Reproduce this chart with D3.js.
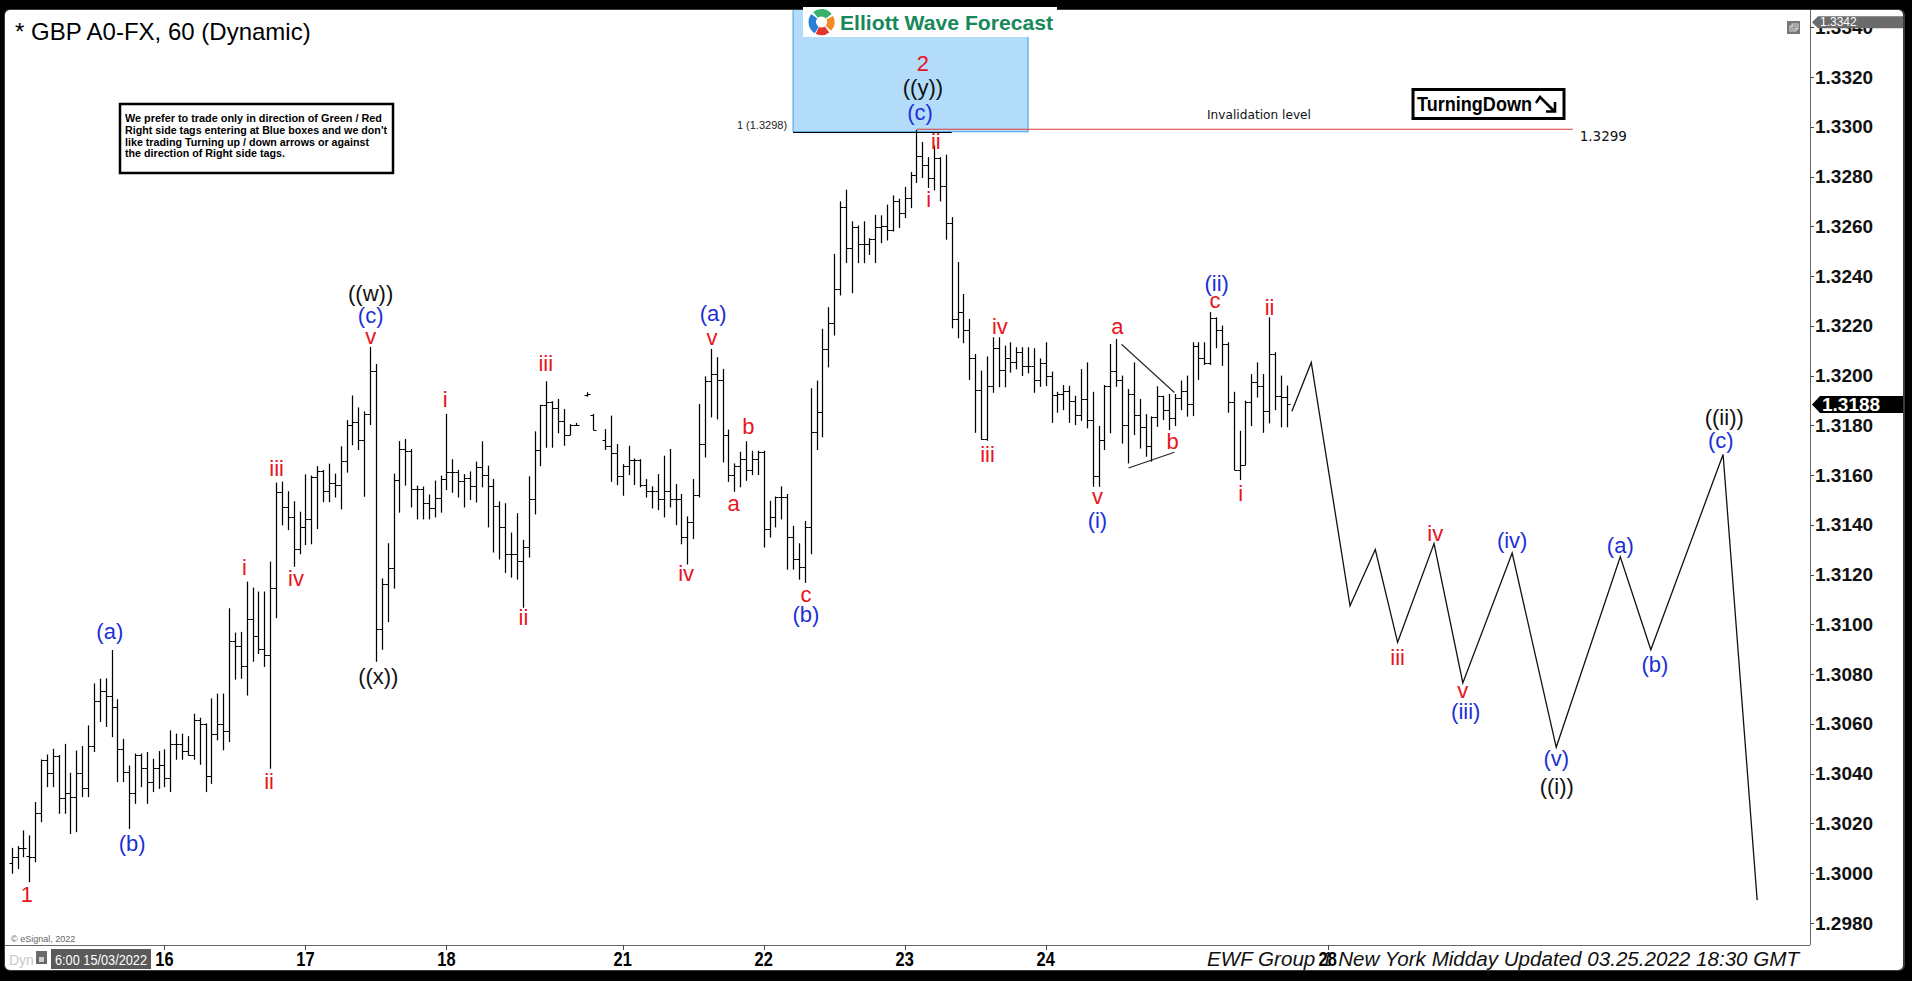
<!DOCTYPE html>
<html><head><meta charset="utf-8">
<script src="https://cdn.jsdelivr.net/npm/d3@7"></script>
<style>html,body{margin:0;padding:0;background:#000;overflow:hidden}svg{display:block}</style>
</head><body><svg id="c" width="1912" height="981"></svg>
<script>
// ---------------- DATA ----------------
const opens=[1.30040,1.30066,1.30100,1.30069,1.30066,1.30241,1.30455,1.30402,1.30473,1.30301,1.30321,1.30308,1.30402,1.30341,1.30512,1.30694,1.30733,1.30713,1.30670,1.30498,1.30408,1.30321,1.30475,1.30422,1.30368,1.30422,1.30435,1.30382,1.30520,1.30520,1.30493,1.30475,1.30616,1.30600,1.30391,1.30559,1.30599,1.30572,1.30934,1.30914,1.30831,1.31021,1.30955,1.30900,1.30876,1.31146,1.31531,1.31472,1.31432,1.31305,1.31393,1.31424,1.31591,1.31615,1.31536,1.31568,1.31560,1.31658,1.31802,1.31814,1.31743,1.31846,1.32018,1.30982,1.31162,1.31226,1.31579,1.31706,1.31698,1.31544,1.31544,1.31488,1.31467,1.31507,1.31584,1.31611,1.31611,1.31575,1.31589,1.31555,1.31633,1.31602,1.31555,1.31475,1.31392,1.31284,1.31284,1.31253,1.31311,1.31504,1.31700,1.31880,1.31895,1.31870,1.31817,1.31763,1.31803,null,1.31920,1.31841,null,1.31743,1.31716,1.31687,1.31595,1.31638,1.31662,1.31660,1.31562,1.31535,1.31535,1.31504,1.31535,1.31504,1.31504,1.31351,1.31412,1.31522,1.31727,1.31978,1.32005,1.31984,1.31763,1.31602,1.31638,1.31665,1.31622,1.31665,1.31692,1.31383,1.31432,1.31512,1.31512,1.31351,1.31263,1.31231,1.31392,1.31772,1.31854,1.32105,1.32212,1.32347,1.32678,1.32514,1.32597,1.32528,1.32530,1.32548,1.32599,1.32601,1.32584,1.32702,1.32655,1.32715,1.32805,1.32883,1.32847,1.32796,1.32876,1.32760,1.32615,1.32226,1.32255,1.32185,1.32071,1.31944,1.31745,1.31957,1.32112,1.32024,1.32071,1.32054,1.32094,1.32038,1.32038,1.31984,1.32051,1.31998,1.31920,1.31924,1.31937,1.31897,1.31843,1.31906,1.31823,1.31595,1.31743,1.31957,1.32018,1.31984,1.31803,1.31924,1.31843,1.31794,1.31716,1.31834,1.31917,1.31863,1.31830,1.31908,1.31937,1.31884,1.32118,1.32071,1.32051,1.32232,1.32185,1.32125,1.31893,1.31622,1.31642,1.31893,1.31973,1.31957,1.31857,1.32085,1.31917,1.31914];
const highs=[1.30100,1.30107,1.30170,1.30150,1.30284,1.30455,1.30475,1.30498,1.30473,1.30518,1.30402,1.30491,1.30509,1.30592,1.30761,1.30780,1.30781,1.30895,1.30697,1.30538,1.30431,1.30479,1.30479,1.30485,1.30458,1.30489,1.30496,1.30572,1.30559,1.30559,1.30549,1.30639,1.30623,1.30600,1.30701,1.30720,1.30720,1.31063,1.30965,1.30968,1.31170,1.31146,1.31130,1.31130,1.31250,1.31568,1.31572,1.31533,1.31493,1.31451,1.31601,1.31596,1.31634,1.31619,1.31644,1.31604,1.31714,1.31819,1.31918,1.31870,1.31854,1.32113,1.32045,1.31183,1.31324,1.31604,1.31735,1.31743,1.31703,1.31556,1.31552,1.31520,1.31576,1.31596,1.31844,1.31662,1.31619,1.31602,1.31613,1.31652,1.31734,1.31636,1.31582,1.31492,1.31485,1.31367,1.31445,1.31338,1.31593,1.31774,1.31880,1.31975,1.31895,1.31904,1.31864,1.31803,1.31808,null,1.31931,1.31844,null,1.31783,1.31837,1.31723,1.31642,1.31716,1.31665,1.31662,1.31582,1.31553,1.31602,1.31676,1.31703,1.31562,1.31522,1.31432,1.31582,1.31884,1.31995,1.32105,1.32072,1.32025,1.31781,1.31645,1.31692,1.31734,1.31696,1.31696,1.31696,1.31495,1.31512,1.31553,1.31522,1.31394,1.31324,1.31414,1.31947,1.31978,1.32186,1.32273,1.32487,1.32698,1.32745,1.32618,1.32601,1.32618,1.32550,1.32644,1.32642,1.32685,1.32722,1.32709,1.32756,1.32816,1.32985,1.32937,1.32876,1.32923,1.32876,1.32886,1.32635,1.32454,1.32326,1.32226,1.32085,1.32018,1.32075,1.32152,1.32152,1.32118,1.32132,1.32112,1.32112,1.32112,1.32108,1.32067,1.32132,1.32014,1.31933,1.31960,1.31957,1.31917,1.32024,1.32051,1.31933,1.31796,1.31960,1.32125,1.32145,1.31998,1.31944,1.32051,1.31904,1.31843,1.31834,1.31955,1.31917,1.31924,1.31924,1.31978,1.31998,1.32132,1.32132,1.32132,1.32253,1.32232,1.32199,1.32132,1.31933,1.31776,1.31897,1.32004,1.32051,1.32004,1.32232,1.32092,1.31998,1.31958];
const lows=[1.30000,1.30019,1.30066,1.29966,1.30046,1.30207,1.30348,1.30348,1.30241,1.30241,1.30160,1.30167,1.30308,1.30308,1.30489,1.30610,1.30590,1.30549,1.30368,1.30368,1.30180,1.30281,1.30348,1.30281,1.30328,1.30341,1.30348,1.30328,1.30458,1.30458,1.30475,1.30458,1.30438,1.30328,1.30361,1.30536,1.30496,1.30529,1.30780,1.30784,1.30716,1.30852,1.30883,1.30831,1.30422,1.31027,1.31400,1.31381,1.31234,1.31284,1.31321,1.31324,1.31385,1.31493,1.31493,1.31512,1.31464,1.31612,1.31722,1.31703,1.31515,1.31803,1.30852,1.30900,1.31011,1.31146,1.31451,1.31560,1.31472,1.31424,1.31424,1.31424,1.31432,1.31451,1.31542,1.31531,1.31512,1.31472,1.31502,1.31492,1.31553,1.31392,1.31291,1.31263,1.31209,1.31190,1.31182,1.31069,1.31271,1.31444,1.31638,1.31712,1.31712,1.31770,1.31720,1.31763,1.31800,null,1.31917,1.31783,null,1.31703,1.31575,1.31562,1.31519,1.31602,1.31562,1.31553,1.31512,1.31468,1.31461,1.31432,1.31472,1.31401,1.31324,1.31243,1.31345,1.31512,1.31673,1.31834,1.31826,1.31653,1.31575,1.31535,1.31553,1.31579,1.31602,1.31602,1.31311,1.31351,1.31392,1.31424,1.31222,1.31222,1.31182,1.31169,1.31284,1.31703,1.31754,1.32035,1.32163,1.32324,1.32454,1.32333,1.32454,1.32454,1.32487,1.32454,1.32534,1.32545,1.32581,1.32595,1.32635,1.32675,1.32776,1.32796,1.32756,1.32746,1.32702,1.32548,1.32192,1.32152,1.32132,1.31984,1.31772,1.31743,1.31740,1.31933,1.31955,1.31955,1.32014,1.32027,1.32000,1.32011,1.31933,1.31957,1.31960,1.31812,1.31853,1.31863,1.31812,1.31803,1.31820,1.31790,1.31555,1.31555,1.31703,1.31770,1.31957,1.31729,1.31649,1.31763,1.31709,1.31676,1.31656,1.31796,1.31823,1.31783,1.31799,1.31863,1.31837,1.31839,1.31984,1.32045,1.32045,1.32112,1.32041,1.31853,1.31622,1.31582,1.31642,1.31799,1.31914,1.31772,1.31810,1.31863,1.31794,1.31794];
const closes=[1.30066,1.30100,1.30100,1.30066,1.30241,1.30455,1.30402,1.30473,1.30301,1.30321,1.30308,1.30402,1.30341,1.30512,1.30694,1.30733,1.30713,1.30670,1.30498,1.30408,1.30321,1.30475,1.30422,1.30368,1.30422,1.30435,1.30382,1.30520,1.30520,1.30493,1.30475,1.30616,1.30600,1.30391,1.30559,1.30599,1.30572,1.30934,1.30914,1.30831,1.31021,1.30955,1.30900,1.30876,1.31146,1.31531,1.31472,1.31432,1.31305,1.31393,1.31424,1.31591,1.31615,1.31536,1.31568,1.31560,1.31658,1.31802,1.31814,1.31743,1.31846,1.32018,1.30982,1.31162,1.31226,1.31579,1.31706,1.31698,1.31544,1.31544,1.31488,1.31467,1.31507,1.31584,1.31611,1.31611,1.31575,1.31589,1.31555,1.31633,1.31602,1.31555,1.31475,1.31392,1.31284,1.31284,1.31253,1.31311,1.31504,1.31700,1.31880,1.31895,1.31870,1.31817,1.31763,1.31803,1.31803,null,1.31925,1.31783,null,1.31716,1.31687,1.31595,1.31638,1.31662,1.31660,1.31562,1.31535,1.31535,1.31504,1.31535,1.31504,1.31504,1.31351,1.31412,1.31522,1.31727,1.31978,1.32005,1.31984,1.31763,1.31602,1.31638,1.31665,1.31622,1.31665,1.31692,1.31383,1.31432,1.31512,1.31512,1.31351,1.31263,1.31231,1.31392,1.31772,1.31854,1.32105,1.32212,1.32347,1.32678,1.32514,1.32597,1.32528,1.32530,1.32548,1.32599,1.32601,1.32584,1.32702,1.32655,1.32715,1.32805,1.32883,1.32847,1.32796,1.32876,1.32760,1.32615,1.32226,1.32255,1.32185,1.32071,1.31944,1.31745,1.31957,1.32112,1.32024,1.32071,1.32054,1.32094,1.32038,1.32038,1.31984,1.32051,1.31998,1.31920,1.31924,1.31937,1.31897,1.31843,1.31906,1.31823,1.31595,1.31743,1.31957,1.32018,1.31984,1.31803,1.31924,1.31843,1.31794,1.31716,1.31834,1.31917,1.31863,1.31830,1.31908,1.31937,1.31884,1.32118,1.32071,1.32051,1.32232,1.32185,1.32125,1.31893,1.31622,1.31642,1.31893,1.31973,1.31957,1.31857,1.32085,1.31917,1.31914,1.31884];

const dayTickIdx=[26,50,74,104,128,152,176,224];
const dayTickLabels=["16","17","18","21","22","23","24","28"];
const priceTicks=[1.2980,1.3000,1.3020,1.3040,1.3060,1.3080,1.3100,1.3120,1.3140,1.3160,1.3180,1.3200,1.3220,1.3240,1.3260,1.3280,1.3300,1.3320,1.3340];
const topFlagPrice=1.3342;

// projected path (bar index, price)
const projIdx=[217.9,221.2,227.8,232.1,235.9,242.1,247.0,255.4,262.9,273.8,279.0,291.3,297.1];
const projPrice=[1.31857,1.32053,1.31075,1.31301,1.30928,1.31325,1.30765,1.31287,1.30506,1.31272,1.30898,1.31683,1.29892];

// triangle boundary lines
const triUpper=[[188.9,1.32126],[197.9,1.31932]];
const triLower=[[190.1,1.31629],[197.9,1.31692]];

// blue box / invalidation
const boxIdx=[133,173]; const boxLow=1.3298;
const invalidation=1.3299; const invalIdx=[154,265.7];
const boxLineIdx=[133,160];

// wave labels (degree: r = red, b = blue, k = black)
const waveText=["1","(a)","(b)","i","ii","iii","iv","v","(c)","((w))","((x))","i","ii","iii","iv","(a)","v","a","b","c","(b)","2","((y))","(c)","ii","i","iv","iii","a","b","v","(i)","(ii)","c","ii","i","iii","iv","v","(iii)","(iv)","(v)","((i))","(a)","(b)","((ii))","(c)"];
const waveIdx=[2.6,16.7,20.5,39.6,43.8,45.1,48.4,61.1,61.1,61.1,62.4,73.8,87.1,90.9,114.8,119.4,119.2,122.9,125.4,135.2,135.2,155.1,155.1,154.6,157.3,156.1,168.2,166.1,188.2,197.6,184.8,184.8,205.1,204.8,214.1,209.2,235.9,242.3,247.0,247.5,255.4,262.9,263.0,273.8,279.7,291.5,290.9];
const wavePrice=[1.29915,1.30970,1.30121,1.31227,1.30367,1.31625,1.31186,1.32157,1.32240,1.32328,1.30789,1.31902,1.31026,1.32047,1.31203,1.32248,1.32155,1.31487,1.31797,1.31121,1.31040,1.33254,1.33157,1.33057,1.32940,1.32706,1.32199,1.31681,1.32199,1.31734,1.31514,1.31417,1.32371,1.32300,1.32275,1.31527,1.30869,1.31367,1.30736,1.30652,1.31339,1.30461,1.30348,1.31319,1.30838,1.31830,1.31741];
const waveDeg=["r","b","b","r","r","r","r","r","b","k","k","r","r","r","r","b","r","r","r","r","b","r","k","b","r","r","r","r","r","r","r","b","b","r","r","r","r","r","r","b","b","b","k","b","b","k","b"];

const noteLines=["We prefer to trade only in direction of Green / Red","Right side tags entering at Blue boxes and we don't","like trading Turning up / down arrows or against","the direction of Right side tags."];

// ---------------- DRAW ----------------
const W=1912,H=981;
const svg=d3.select("#c");
const SANS="'Liberation Sans', Arial, sans-serif";
const RED="#e8141c", BLUE="#1c2fd6", BLK="#111";
const degColor={r:RED,b:BLUE,k:BLK};

const x=d3.scaleLinear().domain([0,224]).range([11.7,1327.7]);
const y=d3.scaleLinear().domain([1.2980,1.3320]).range([923,77]);
const plotR=1810, plotB=945, plotT=10, plotL=5;

svg.append("rect").attr("width",W).attr("height",H).attr("fill","#000");
svg.append("rect").attr("x",4).attr("y",9).attr("width",1901).attr("height",962).attr("rx",6).attr("fill","#3a3a3a");
svg.append("rect").attr("x",5).attr("y",10).attr("width",1898).attr("height",960).attr("rx",5).attr("fill","#fff");

const defs=svg.append("defs");
defs.append("clipPath").attr("id","plot").append("rect").attr("x",plotL).attr("y",plotT).attr("width",plotR-plotL).attr("height",plotB-plotT);
const g=svg.append("g").attr("clip-path","url(#plot)");

// blue box
g.append("rect").attr("x",x(boxIdx[0])).attr("y",0).attr("width",x(boxIdx[1])-x(boxIdx[0])).attr("height",y(boxLow))
 .attr("fill","#b3dcfb").attr("stroke","#3d9de0").attr("stroke-width",1);
g.append("line").attr("x1",x(boxLineIdx[0])).attr("x2",x(boxLineIdx[1])).attr("y1",Math.round(y(boxLow))+0.5).attr("y2",Math.round(y(boxLow))+0.5).attr("stroke","#000").attr("stroke-width",1);
g.append("text").attr("x",x(boxIdx[0])-6).attr("y",y(boxLow)-3).attr("text-anchor","end").attr("font-family",SANS).attr("font-size",11).attr("fill","#222").text("1 ("+d3.format(".4f")(boxLow)+")");
// invalidation line
g.append("line").attr("x1",x(invalIdx[0])).attr("x2",x(invalIdx[1])).attr("y1",y(invalidation)).attr("y2",y(invalidation)).attr("stroke","#e03a3a").attr("stroke-width",1.2);
g.append("text").attr("x",1207).attr("y",y(invalidation)-10).attr("font-family","'DejaVu Sans', Tahoma, sans-serif").attr("font-size",12.5).attr("fill","#111").attr("textLength",104).attr("lengthAdjust","spacingAndGlyphs").text("Invalidation level");
g.append("text").attr("x",x(invalIdx[1])+7).attr("y",y(invalidation)+12).attr("font-family","'DejaVu Sans', Tahoma, sans-serif").attr("font-size",13.5).attr("fill","#111").text(d3.format(".4f")(invalidation));

// OHLC bars
const idx=d3.range(opens.length).filter(i=>highs[i]!=null);
const bars=g.append("g").attr("stroke","#000").attr("stroke-width",1.25).attr("fill","none");
idx.forEach(i=>{
  const cx=Math.round(x(i))+0.5;
  bars.append("line").attr("x1",cx).attr("x2",cx).attr("y1",y(highs[i])-0.5).attr("y2",y(lows[i])+0.5);
  bars.append("line").attr("x1",cx-3).attr("x2",cx).attr("y1",Math.round(y(opens[i]))+0.5).attr("y2",Math.round(y(opens[i]))+0.5).attr("stroke-width",1);
  bars.append("line").attr("x1",cx).attr("x2",cx+3).attr("y1",Math.round(y(closes[i]))+0.5).attr("y2",Math.round(y(closes[i]))+0.5).attr("stroke-width",1);
});

// triangle lines
[triUpper,triLower].forEach(l=>{
  g.append("line").attr("x1",x(l[0][0])).attr("y1",y(l[0][1])).attr("x2",x(l[1][0])).attr("y2",y(l[1][1])).attr("stroke","#222").attr("stroke-width",1.1);
});

// projection path
const pts=projIdx.map((v,i)=>[x(v),y(projPrice[i])]);
g.append("path").attr("d",d3.line()(pts)).attr("fill","none").attr("stroke","#111").attr("stroke-width",1.3);

// wave labels
waveText.forEach((t,i)=>{
  g.append("text").attr("x",x(waveIdx[i])).attr("y",y(wavePrice[i])).attr("text-anchor","middle").attr("dominant-baseline","central")
   .attr("font-family",SANS).attr("font-size",22).attr("fill",degColor[waveDeg[i]]).text(t);
});

// note box
const nb=svg.append("g");
nb.append("rect").attr("x",120).attr("y",104).attr("width",273).attr("height",69).attr("fill","#fff").attr("stroke","#000").attr("stroke-width",2.5);
const noteW=[257,262,244,160];
noteLines.forEach((t,i)=>{
  nb.append("text").attr("x",125).attr("y",122+i*11.8).attr("font-family",SANS).attr("font-weight","bold").attr("font-size",11.5)
   .attr("textLength",noteW[i]).attr("lengthAdjust","spacingAndGlyphs").attr("fill","#000").text(t);
});

// Turning Down box
const td=svg.append("g");
td.append("rect").attr("x",1413).attr("y",89.5).attr("width",151).attr("height",29).attr("fill","#fff").attr("stroke","#000").attr("stroke-width",3);
td.append("text").attr("x",1417).attr("y",111).attr("font-family",SANS).attr("font-weight","bold").attr("font-size",21).attr("textLength",115).attr("lengthAdjust","spacingAndGlyphs").attr("fill","#000").text("TurningDown");
td.append("path").attr("d","M1536,103 L1540,97 L1554,111 M1546,111.5 L1555,111.5 L1555,102").attr("fill","none").attr("stroke","#000").attr("stroke-width",2.6).attr("stroke-linejoin","miter");

// axes
svg.append("line").attr("x1",plotR+0.5).attr("x2",plotR+0.5).attr("y1",plotT).attr("y2",plotB).attr("stroke","#666").attr("stroke-width",1);
svg.append("line").attr("x1",plotL).attr("x2",plotR).attr("y1",plotB+0.5).attr("y2",plotB+0.5).attr("stroke","#666").attr("stroke-width",1);
const ya=svg.append("g");
priceTicks.forEach(p=>{
  const yy=Math.round(y(p))+0.5;
  ya.append("line").attr("x1",plotR).attr("x2",plotR+4).attr("y1",yy).attr("y2",yy).attr("stroke","#444");
  ya.append("text").attr("x",plotR+5).attr("y",y(p)).attr("dominant-baseline","central").attr("font-family",SANS).attr("font-weight","bold").attr("font-size",19).attr("fill","#111").text(d3.format(".4f")(p));
});
// top flag
const tf=y(topFlagPrice);
ya.append("path").attr("d",`M${plotR+2},${tf} L${plotR+8},${tf-6} L1903,${tf-6} L1903,${tf+6} L${plotR+8},${tf+6} Z`).attr("fill","#6b6b6b");
ya.append("text").attr("x",plotR+10).attr("y",tf).attr("dominant-baseline","central").attr("font-family",SANS).attr("font-size",12).attr("fill","#fff").text(d3.format(".4f")(topFlagPrice));
// last price flag
const last=closes[closes.length-1], ly=y(last);
ya.append("path").attr("d",`M${plotR+2},${ly} L${plotR+10},${ly-8.5} L1903,${ly-8.5} L1903,${ly+8.5} L${plotR+10},${ly+8.5} Z`).attr("fill","#000");
ya.append("text").attr("x",plotR+12).attr("y",ly).attr("dominant-baseline","central").attr("font-family",SANS).attr("font-weight","bold").attr("font-size",19).attr("fill","#fff").text(d3.format(".4f")(last));
// small icon top right
svg.append("rect").attr("x",1787).attr("y",21).attr("width",13).attr("height",13).attr("fill","#777");
svg.append("rect").attr("x",1790).attr("y",26).attr("width",6).attr("height",5).attr("fill","none").attr("stroke","#ddd").attr("stroke-width",1);
svg.append("rect").attr("x",1792).attr("y",24).attr("width",6).attr("height",5).attr("fill","none").attr("stroke","#ddd").attr("stroke-width",1);

// x axis
const xa=svg.append("g");
dayTickIdx.forEach((d,i)=>{
  const xx=Math.round(x(d))+0.5;
  xa.append("line").attr("x1",xx).attr("x2",xx).attr("y1",plotB).attr("y2",plotB+5).attr("stroke","#444");
});
// bottom-right caption
svg.append("text").attr("x",1207).attr("y",966).attr("font-family",SANS).attr("font-style","italic").attr("font-size",21)
 .attr("textLength",592).attr("lengthAdjust","spacingAndGlyphs").attr("fill","#111").text("EWF Group 1 New York Midday Updated 03.25.2022 18:30 GMT");
dayTickIdx.forEach((d,i)=>{
  xa.append("text").attr("transform",`translate(${x(d)},966) scale(0.78,1)`).attr("text-anchor","middle").attr("font-family",SANS).attr("font-weight","bold").attr("font-size",21).attr("fill","#000").text(dayTickLabels[i]);
});
// bottom-left widgets
svg.append("text").attr("x",11).attr("y",942).attr("font-family",SANS).attr("font-size",9).attr("fill","#666").text("© eSignal, 2022");
svg.append("text").attr("x",9).attr("y",965).attr("font-family",SANS).attr("font-size",14).attr("fill","#c8c8c8").text("Dyn");
svg.append("rect").attr("x",36).attr("y",951).attr("width",11).attr("height",13).attr("fill","#6a6a6a");
svg.append("rect").attr("x",39).attr("y",957).attr("width",5).attr("height",5).attr("fill","#ccc");
svg.append("rect").attr("x",51).attr("y",949).attr("width",100).attr("height",20).attr("fill","#5a5a5a");
svg.append("text").attr("x",55).attr("y",965).attr("font-family",SANS).attr("font-size",15).attr("textLength",92).attr("lengthAdjust","spacingAndGlyphs").attr("fill","#fff").text("6:00 15/03/2022");

// title
svg.append("text").attr("x",15).attr("y",39.5).attr("font-family",SANS).attr("font-size",24).attr("fill","#000").text("* GBP A0-FX, 60 (Dynamic)");

// logo
const lg=svg.append("g");
lg.append("rect").attr("x",803).attr("y",7).attr("width",254).attr("height",30).attr("fill","#fff");
const arc=d3.arc().innerRadius(5.5).outerRadius(13);
const segs=[["#2b7fd4",-2.6,-0.9],["#3bb06a",-0.7,0.9],["#f08a24",1.1,2.3],["#e3342f",2.5,3.6]];
segs.forEach(s=>lg.append("path").attr("transform","translate(821.5,22)").attr("d",arc({startAngle:s[1],endAngle:s[2]})).attr("fill",s[0]));
lg.append("text").attr("x",840).attr("y",30).attr("font-family",SANS).attr("font-weight","bold").attr("font-size",21).attr("fill","#17885a").attr("textLength",213).attr("lengthAdjust","spacingAndGlyphs").text("Elliott Wave Forecast");
</script></body></html>
